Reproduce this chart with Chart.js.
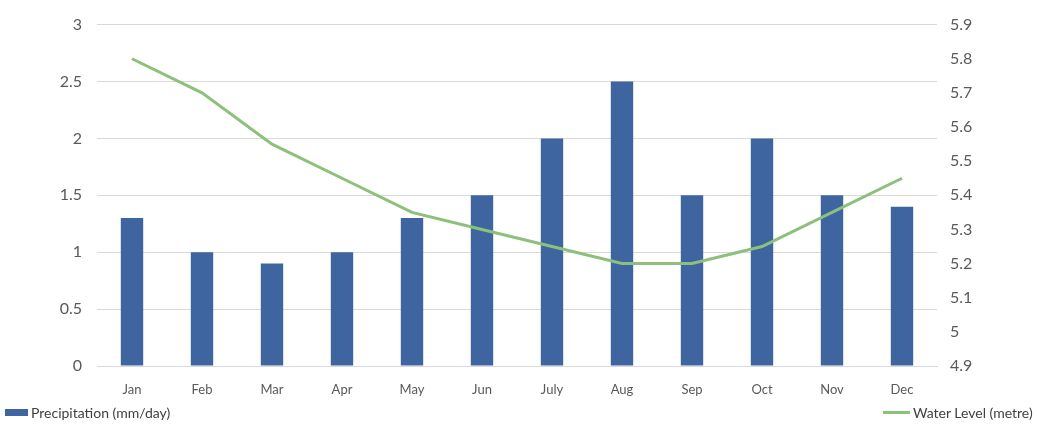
<!DOCTYPE html>
<html>
<head>
<meta charset="utf-8">
<script src="https://cdn.jsdelivr.net/npm/chart.js@4"></script>
<style>
  html, body { margin: 0; padding: 0; background: #fff; }
  #wrap { position: relative; width: 1037px; height: 427px; }
  .leg { position: absolute; top: 404px; font-family: Lato, "Open Sans", sans-serif; font-size: 14px; color: #404040; display: flex; align-items: center; }
  .sw-bar { width: 23px; height: 7px; background: #3e65a0; margin-right: 3px; }
  .sw-line { width: 27px; height: 3px; background: #8cc07b; margin-right: 3px; }
</style>
</head>
<body>
<div id="wrap">
  <canvas id="myChart" width="1037" height="427"></canvas>
  <div class="leg" style="left:5px"><span class="sw-bar"></span>Precipitation (mm/day)</div>
  <div class="leg" style="left:883px"><span class="sw-line"></span>Water Level (metre)</div>
</div>
<script>
// data
var months = ['Jan', 'Feb', 'Mar', 'Apr', 'May', 'Jun', 'July', 'Aug', 'Sep', 'Oct', 'Nov', 'Dec'];
var precipitation = [1.3, 1.0, 0.9, 1.0, 1.3, 1.5, 2.0, 2.5, 1.5, 2.0, 1.5, 1.4];
var waterLevel = [5.8, 5.7, 5.55, 5.45, 5.35, 5.3, 5.25, 5.2, 5.2, 5.25, 5.35, 5.45];

var font = "Lato, 'Open Sans', sans-serif";

function plain(v) { return Math.round(v * 10) / 10; }

var ctx = document.getElementById('myChart').getContext('2d');
var myChart = new Chart(ctx, {
  type: 'bar',
  data: {
    labels: months,
    datasets: [{
      type: 'line',
      label: 'Water Level (metre)',
      data: waterLevel,
      borderColor: '#8cc07b',
      borderWidth: 3,
      pointRadius: 0,
      tension: 0,
      yAxisID: 'y2',
      order: 0
    }, {
      label: 'Precipitation (mm/day)',
      data: precipitation,
      backgroundColor: '#3e65a0',
      categoryPercentage: 1,
      barPercentage: 0.32,
      yAxisID: 'y',
      order: 1
    }]
  },
  options: {
    responsive: false,
    animation: false,
    layout: { padding: { top: 12, bottom: 31, left: 0, right: 0 } },
    plugins: { legend: { display: false }, tooltip: { enabled: false } },
    scales: {
      x: {
        grid: { display: false },
        border: { color: '#d9d9d9' },
        ticks: { color: '#595959', font: { family: font, size: 13 }, padding: 8 },
        afterFit: function (s) { s.height = 30; }
      },
      y: {
        position: 'left',
        min: 0, max: 3,
        ticks: { stepSize: 0.5, color: '#595959', font: { family: font, size: 16 }, padding: 15, callback: plain },
        grid: { color: '#d9d9d9', drawTicks: false },
        border: { display: false },
        afterFit: function (s) { s.width = 97; }
      },
      y2: {
        position: 'right',
        min: 4.9, max: 5.9,
        ticks: { stepSize: 0.1, color: '#595959', font: { family: font, size: 16 }, padding: 13, callback: plain },
        grid: { display: false, drawTicks: false },
        border: { display: false },
        afterFit: function (s) { s.width = 100; }
      }
    }
  }
});
</script>
</body>
</html>
